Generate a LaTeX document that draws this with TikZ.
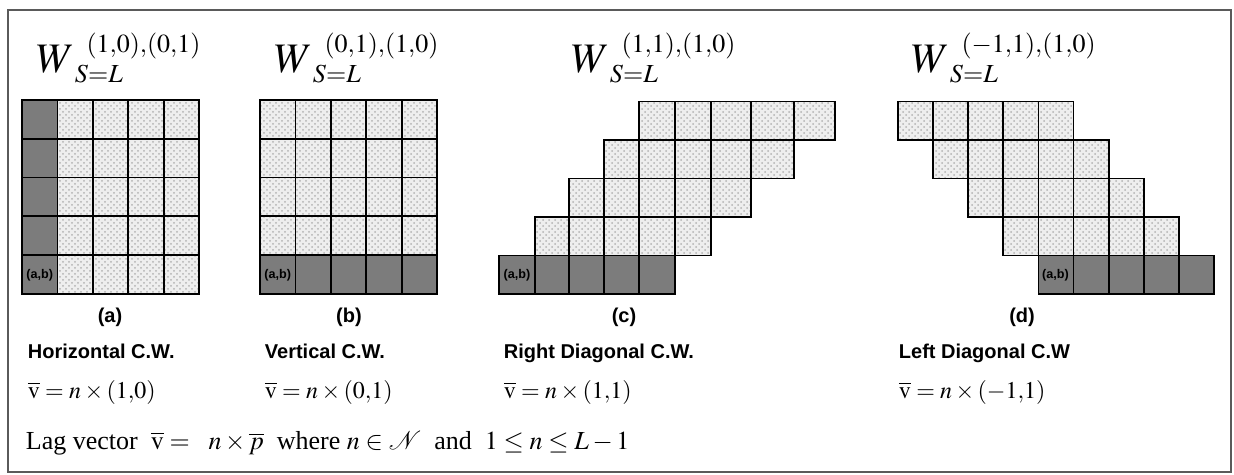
\documentclass[tikz,border=0pt]{standalone}
\usepackage{mathptmx}
\usepackage{fontspec}
\setmainfont{Liberation Serif}
\setsansfont{Liberation Sans}
\DeclareMathSizes{21}{21}{13}{9}
\usetikzlibrary{patterns}
\definecolor{Frame}{HTML}{5A5A5A}
\definecolor{Shade}{HTML}{7C7C7C}
\definecolor{Paper}{HTML}{EEEEEE}
\newcommand{\wsup}[1]{\raisebox{-3pt}{$\scriptstyle\mkern8mu#1$}}

\begin{document}
\begin{tikzpicture}[x=0.5pt,y=-0.5pt,line width=0.9pt,
    cell/.style={draw=black,preaction={fill=Paper},pattern=crosshatch dots,pattern color=black!30},
    shade/.style={draw=black,fill=Shade},
    tag/.style={font=\sffamily\bfseries\fontsize{6.3}{7}\selectfont,inner sep=0pt},
    sub/.style={font=\sffamily\bfseries\fontsize{10}{12}\selectfont,inner sep=0pt},
    kind/.style={font=\sffamily\bfseries\fontsize{10}{12}\selectfont,inner sep=0pt,anchor=base west},
    vec/.style={font=\fontsize{12}{14}\selectfont,inner sep=0pt,anchor=base west},
    head/.style={font=\fontsize{21}{24}\selectfont,inner sep=0pt,anchor=base west}]
  \useasboundingbox (0,0) rectangle (1234,475);
  \draw[Frame,line width=1.2pt] (8,10) rectangle (1231,472);
  % (a)
  \foreach \r in {0,...,4}{
    \foreach \c in {1,...,4}
      \draw[cell] ({22+35.4*\c},{100+38.8*\r}) rectangle +(35.4,38.8);
    \draw[shade] (22,{100+38.8*\r}) rectangle +(35.4,38.8);}
  % (b)
  \foreach \c in {0,...,4}{
    \foreach \r in {0,...,3}
      \draw[cell] ({260+35.4*\c},{100+38.8*\r}) rectangle +(35.4,38.8);
    \draw[shade] ({260+35.4*\c},255.2) rectangle +(35.4,38.8);}
  % (c)
  \def\colsc{{499,535,569,604,639,675,711,751,794,835}}
  \foreach \r in {0,...,4}
    \foreach \c in {0,...,4}{
      \pgfmathsetmacro\xl{\colsc[4-\r+\c]}
      \pgfmathsetmacro\xr{\colsc[5-\r+\c]}
      \ifnum\r=4 \def\cellst{shade}\else\def\cellst{cell}\fi
      \draw[\cellst] (\xl,{101.5+38.5*\r}) rectangle (\xr,{140+38.5*\r});}
  % (d)
  \foreach \r in {0,...,4}
    \foreach \c in {0,...,4}{
      \ifnum\r=4 \def\cellst{shade}\else\def\cellst{cell}\fi
      \draw[\cellst] ({898+35.1*(\r+\c)},{101.5+38.5*\r}) rectangle +(35.1,38.5);}
  \foreach \x/\n in {39.7/A,277.7/B,517/C,1055.5/D}
    \node[tag] (ab\n) at (\x,275) {(a,b)};
  \node[head] (headA) at (36,73) {$W^{\wsup{(1,0),(0,1)}}_{\mkern5mu S=L}$};
  \node[head] (headB) at (274,73) {$W^{\wsup{(0,1),(1,0)}}_{\mkern5mu S=L}$};
  \node[head] (headC) at (571,73) {$W^{\wsup{(1,1),(1,0)}}_{\mkern5mu S=L}$};
  \node[head] (headD) at (911,73) {$W^{\wsup{(-1,1),(1,0)}}_{\mkern5mu S=L}$};
  \foreach \x/\n/\t in {110/A/a,349/B/b,624/C/c,1022/D/d}
    \node[sub] (fig\n) at (\x,317) {(\t)};
  \node[kind] (kindA) at (27,358) {Horizontal C.W.};
  \node[kind] (kindB) at (264,358) {Vertical C.W.};
  \node[kind] (kindC) at (503,358) {Right Diagonal C.W.};
  \node[kind] (kindD) at (898,358) {Left Diagonal C.W};
  \node[vec] (vecA) at (27,398) {$\overline{\mathrm{v}} = n\times(1{,}0)$};
  \node[vec] (vecB) at (264,398) {$\overline{\mathrm{v}} = n\times(0{,}1)$};
  \node[vec] (vecC) at (503,398) {$\overline{\mathrm{v}} = n\times(1{,}1)$};
  \node[vec] (vecD) at (898,398) {$\overline{\mathrm{v}} = n\times(-1{,}1)$};
  \node[vec,font=\fontsize{13}{15}\selectfont] (lag) at (25,449)
    {Lag vector \ $\overline{\mathrm{v}} =\ \ n\times\overline{p}$\ \ where $n\in\mathcal{N}$\ \ and\ \ $1\le n\le L-1$};
\end{tikzpicture}
\end{document}
